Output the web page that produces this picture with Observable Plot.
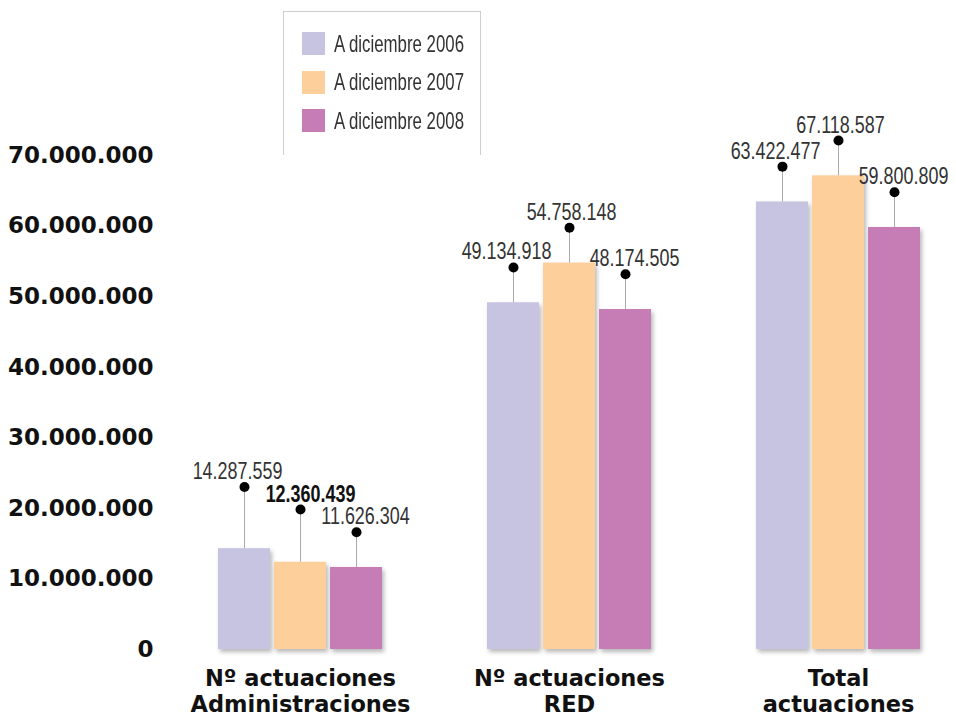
<!DOCTYPE html>
<html>
<head>
<meta charset="utf-8">
<script src="https://cdn.jsdelivr.net/npm/d3@7"></script>
<script src="https://cdn.jsdelivr.net/npm/@observablehq/plot@0.6"></script>
<style>
  html, body { margin: 0; padding: 0; background: #fff; }
  #wrap { position: relative; width: 956px; height: 718px; overflow: hidden; }
  #legend {
    position: absolute; left: 283px; top: 11px; width: 198px; height: 144px;
    border-left: 1px solid #cfcfcf; border-right: 1px solid #cfcfcf; border-top: 1px solid #cfcfcf;
    box-sizing: border-box;
    font-family: "Liberation Sans", Arial, sans-serif;
    font-size: 24px; color: #333;
  }
  .row { position: absolute; left: 18px; height: 23px; display: flex; align-items: center; white-space: nowrap; }
  .sw { width: 23px; height: 23px; margin-right: 9px; flex: none; }
  .lt { display: inline-block; transform-origin: left center; white-space: nowrap; }
  .bars rect { filter: drop-shadow(2px 3px 2px rgba(0,0,0,0.28)); }
</style>
</head>
<body>
<div id="wrap"><div id="legend"></div></div>
<script>
const categories = ["Nº actuaciones\nAdministraciones", "Nº actuaciones\nRED", "Total\nactuaciones"];
const years = ["A diciembre 2006", "A diciembre 2007", "A diciembre 2008"];
const colors = ["#c7c4e1", "#fdcf9b", "#c67cb5"];
const values2006 = [14287559, 49134918, 63422477];
const values2007 = [12360439, 54758148, 67118587];
const values2008 = [11626304, 48174505, 59800809];
const yTicks = [0, 10000000, 20000000, 30000000, 40000000, 50000000, 60000000, 70000000];
const boldLabel = 12360439;

const series = [values2006, values2007, values2008];
const data = [];
categories.forEach((c, i) => years.forEach((y, j) => data.push({cat: c, year: y, yi: j, value: series[j][i]})));

// leader-line heights: a fixed lift, nudged upward where neighbouring labels would collide
const lift = 5000000, gap = 3200000;
categories.forEach(c => {
  const g = data.filter(d => d.cat === c);
  for (let j = g.length - 1; j >= 0; j--) {
    let top = g[j].value + lift;
    if (j < g.length - 1 && Math.abs(top - g[j + 1].top) < gap) top = g[j + 1].top + gap;
    g[j].top = top;
  }
});

const es = d3.formatLocale({decimal: ",", thousands: ".", grouping: [3], currency: ["", " €"]});
const fmt = es.format(",d");
const narrow = "'Liberation Sans', Arial, sans-serif";
const labelShift = [-7, 2, 9];

const labelMarks = years.map((y, j) => Plot.text(data.filter(d => d.yi === j && d.value !== boldLabel), {
  fx: "cat", x: "year", y: "top", text: d => fmt(d.value), dx: labelShift[j], dy: -8,
  lineAnchor: "bottom", fontSize: 23, fontFamily: narrow, fill: "#333", className: "vlabels"
}));
labelMarks.push(Plot.text(data.filter(d => d.value === boldLabel), {
  fx: "cat", x: "year", y: "top", text: d => fmt(d.value), dx: 10, dy: -8,
  lineAnchor: "bottom", fontSize: 23, fontFamily: narrow, fontWeight: "bold", fill: "#111", className: "vlabels"
}));

const chart = Plot.plot({
  width: 956,
  height: 718,
  marginLeft: 217,
  marginRight: 35,
  marginTop: 155,
  marginBottom: 69,
  style: {fontFamily: "'DejaVu Sans', sans-serif", background: "#fff", color: "#111"},
  fx: {domain: categories, paddingInner: 0.383, paddingOuter: 0, label: null},
  x: {domain: years, paddingInner: 0.07, paddingOuter: 0, axis: null},
  y: {domain: [0, 70000000], ticks: yTicks, tickFormat: fmt, label: null},
  color: {domain: years, range: colors},
  marks: [
    Plot.axisY({ticks: yTicks, tickFormat: fmt, tickSize: 0, tickPadding: 64, fontSize: 23, fontWeight: "bold", label: null}),
    Plot.axisFx({anchor: "bottom", tickSize: 0, tickPadding: 19, fontSize: 22.5, fontWeight: "bold", lineHeight: 1.12, label: null}),
    Plot.barY(data, {fx: "cat", x: "year", y: "value", fill: "year", className: "bars"}),
    Plot.ruleX(data, {fx: "cat", x: "year", y1: "value", y2: "top", stroke: "#aaa", strokeWidth: 1}),
    Plot.dot(data, {fx: "cat", x: "year", y: "top", r: 5, fill: "#000", stroke: null}),
    ...labelMarks
  ]
});
document.getElementById("wrap").prepend(chart);

// condense the value labels horizontally (the original uses a condensed typeface)
chart.querySelectorAll(".vlabels text").forEach(t => {
  const x = +(t.getAttribute("x") || 0), y = +(t.getAttribute("y") || 0);
  const tr = t.getAttribute("transform") || "";
  t.setAttribute("transform", `${tr} translate(${x},${y}) scale(0.78,1) translate(${-x},${-y})`);
});

const legend = document.getElementById("legend");
years.forEach((y, i) => {
  const row = document.createElement("div");
  row.className = "row";
  row.style.top = (20 + i * 38.5) + "px";
  const sw = document.createElement("div");
  sw.className = "sw";
  sw.style.background = colors[i];
  const t = document.createElement("span");
  t.className = "lt";
  t.textContent = y;
  row.appendChild(sw);
  row.appendChild(t);
  legend.appendChild(row);
  const w = t.getBoundingClientRect().width;
  t.style.transform = "scaleX(" + (130 / w).toFixed(3) + ")";
});
</script>
</body>
</html>
